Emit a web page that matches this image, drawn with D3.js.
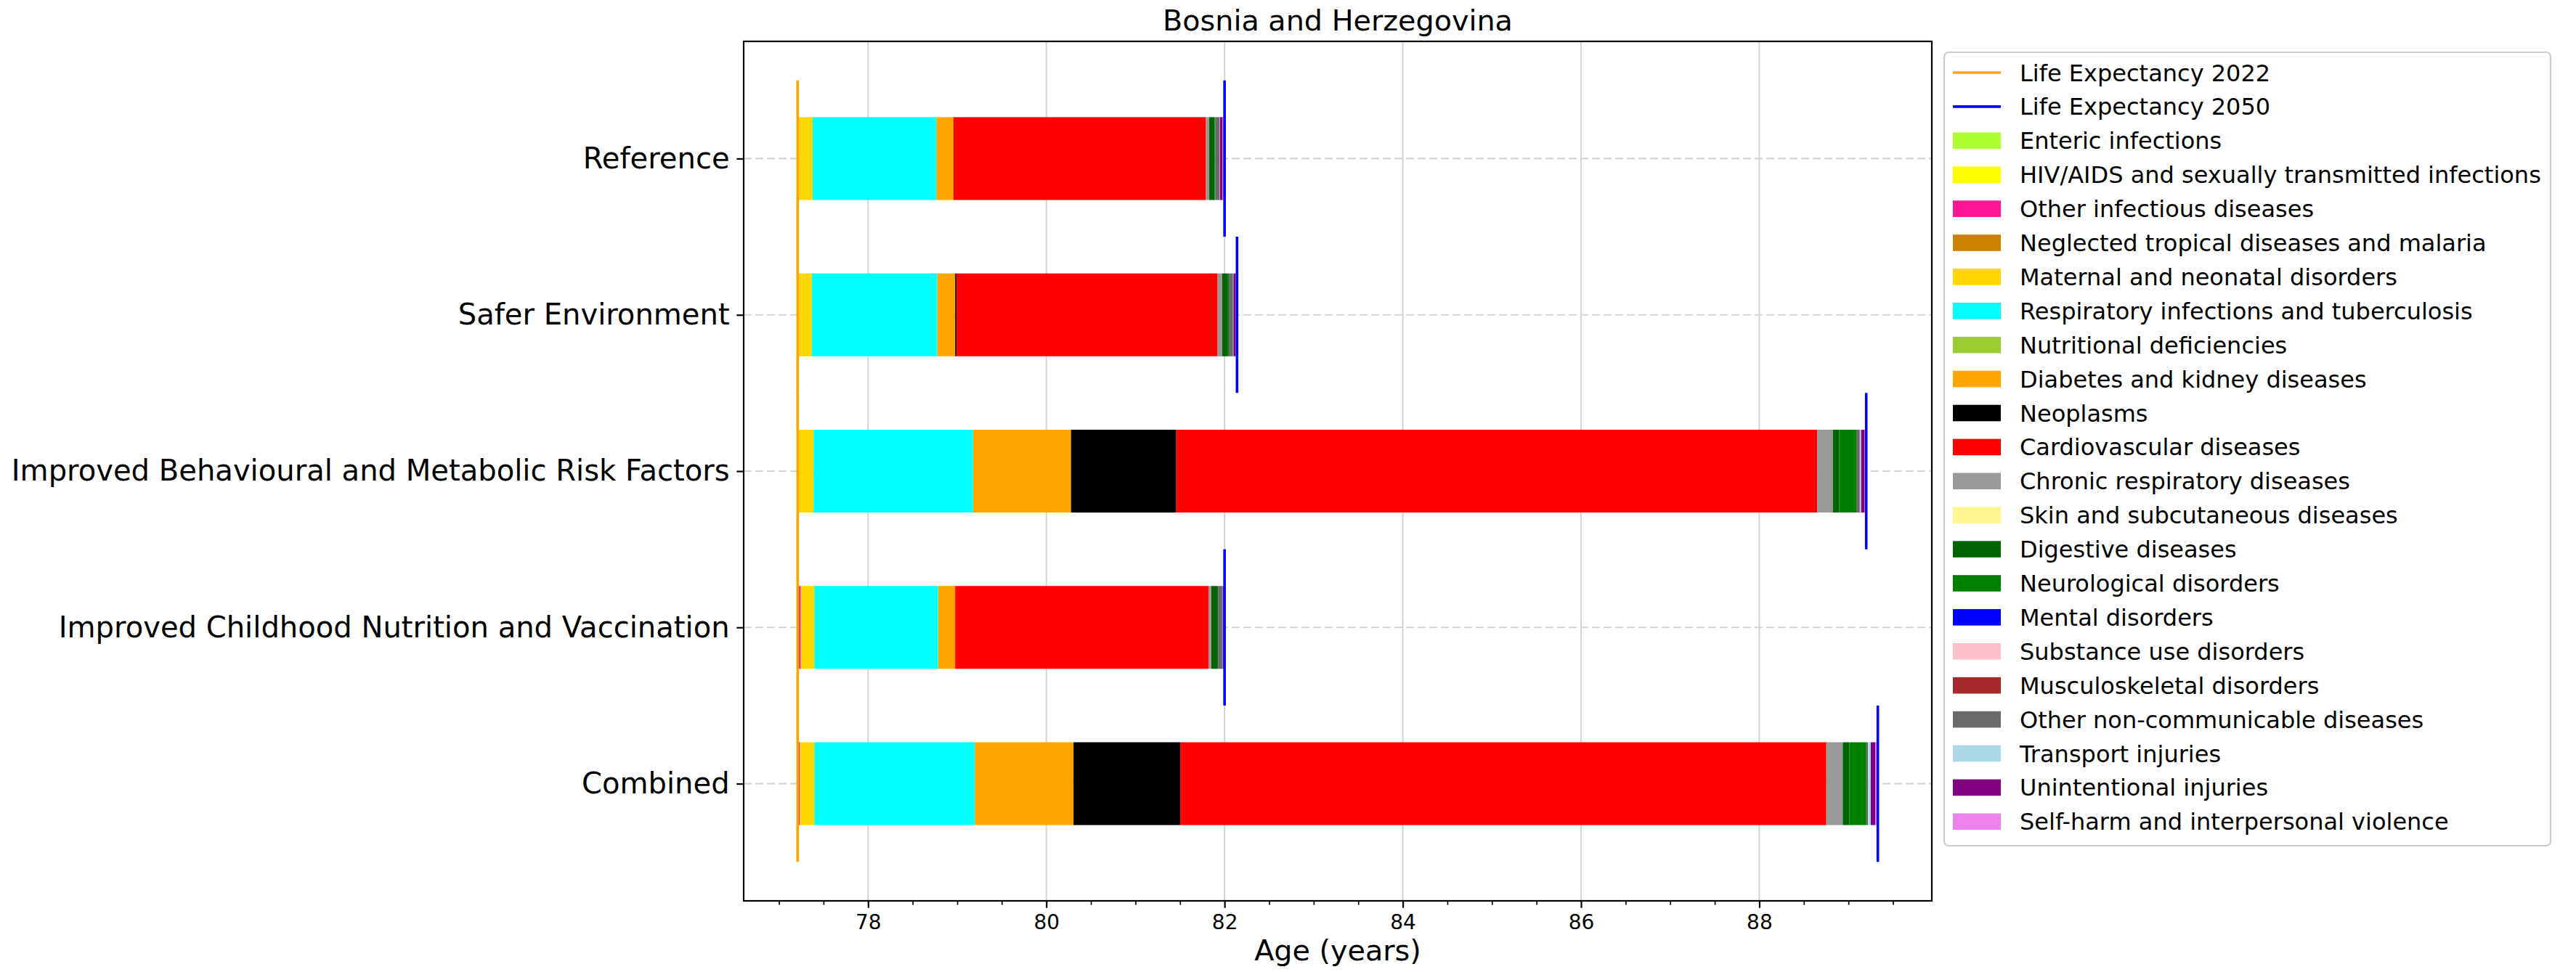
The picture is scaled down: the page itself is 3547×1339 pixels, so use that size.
<!DOCTYPE html>
<html><head><meta charset="utf-8">
<script src="https://cdn.jsdelivr.net/npm/d3@7"></script>
<style>body{margin:0;background:#fff} svg{display:block} text{font-family:"DejaVu Sans",sans-serif;fill:#000}</style>
</head><body><svg id="c" width="3547" height="1339"></svg>
<script>
// ---------------- DATA ----------------
const scenarios = ["Reference", "Safer Environment", "Improved Behavioural and Metabolic Risk Factors", "Improved Childhood Nutrition and Vaccination", "Combined"];
const lifeExpectancy2022 = [77.21, 77.21, 77.21, 77.21, 77.21];
const lifeExpectancy2050 = [82.00, 82.14, 89.20, 82.00, 89.33];

const causeNames = ["Enteric infections", "HIV/AIDS and sexually transmitted infections", "Other infectious diseases", "Neglected tropical diseases and malaria", "Maternal and neonatal disorders", "Respiratory infections and tuberculosis", "Nutritional deficiencies", "Diabetes and kidney diseases", "Neoplasms", "Cardiovascular diseases", "Chronic respiratory diseases", "Skin and subcutaneous diseases", "Digestive diseases", "Neurological disorders", "Mental disorders", "Substance use disorders", "Musculoskeletal disorders", "Other non-communicable diseases", "Transport injuries", "Unintentional injuries", "Self-harm and interpersonal violence"];
const causeColors = ["#ADFF2F", "#FFFF00", "#FF1493", "#CC8400", "#FFD700", "#00FFFF", "#9ACD32", "#FFA500", "#000000", "#FF0000", "#999999", "#FFF68F", "#006400", "#008000", "#0000FF", "#FFC0CB", "#A52A2A", "#696969", "#ADD8E6", "#800080", "#EE82EE"];

// years gained per cause, one value per scenario (order of `scenarios`)
const entericInfections   = [0.010, 0.005, 0.005, 0.015, 0.005];
const hivAids             = [0, 0, 0, 0, 0];
const otherInfectious     = [0.005, 0.010, 0.005, 0.020, 0.020];
const neglectedTropical   = [0, 0, 0, 0, 0];
const maternalNeonatal    = [0.153, 0.144, 0.168, 0.152, 0.162];
const respiratoryTB       = [1.388, 1.407, 1.790, 1.388, 1.800];
const nutritional         = [0, 0, 0, 0, 0];
const diabetesKidney      = [0.192, 0.201, 1.099, 0.192, 1.108];
const neoplasms           = [0, 0.014, 1.181, 0, 1.197];
const cardiovascular      = [2.833, 2.931, 7.193, 2.842, 7.250];
const chronicRespiratory  = [0.037, 0.051, 0.174, 0.033, 0.185];
const skinSubcutaneous    = [0, 0, 0, 0, 0];
const digestive           = [0.060, 0.065, 0.073, 0.065, 0.073];
const neurological        = [0.010, 0.010, 0.191, 0.010, 0.191];
const mental              = [0, 0, 0, 0, 0];
const substanceUse        = [0, 0, 0, 0, 0];
const musculoskeletal     = [0, 0, 0, 0, 0];
const otherNCD            = [0.045, 0.047, 0.039, 0.047, 0.020];
const transportInjuries   = [0.005, 0.005, 0.015, 0.005, 0.030];
const unintentional       = [0.030, 0.025, 0.035, 0.020, 0.050];
const selfHarm            = [0.012, 0.010, 0.015, 0.005, 0.015];

const xTicks = [78, 80, 82, 84, 86, 88];
const chartTitle = "Bosnia and Herzegovina";
const xLabel = "Age (years)";
const legendLineLabels = ["Life Expectancy 2022", "Life Expectancy 2050"];

// ---------------- BUILD ----------------
const causeValues = [entericInfections, hivAids, otherInfectious, neglectedTropical, maternalNeonatal, respiratoryTB, nutritional, diabetesKidney, neoplasms, cardiovascular, chronicRespiratory, skinSubcutaneous, digestive, neurological, mental, substanceUse, musculoskeletal, otherNCD, transportInjuries, unintentional, selfHarm];

const segments = [];
scenarios.forEach((s, i) => {
  let cur = lifeExpectancy2022[i];
  causeValues.forEach((vals, c) => {
    const v = vals[i];
    segments.push({ i, c, x0: cur, x1: cur + v });
    cur += v;
  });
});

const plot = { left: 1024, right: 2660, top: 57, bottom: 1241 };
const svg = d3.select("#c");

const allX = segments.flatMap(d => [d.x0, d.x1]).concat(lifeExpectancy2022, lifeExpectancy2050);
const xmin = d3.min(allX), xmax = d3.max(allX), xm = (xmax - xmin) * 0.05;
const x = d3.scaleLinear().domain([xmin - xm, xmax + xm]).range([plot.left, plot.right]);
const lineHalf = 0.5, barH = 0.53;
const ymin = -lineHalf, ymax = scenarios.length - 1 + lineHalf, ym = (ymax - ymin) * 0.05;
const y = d3.scaleLinear().domain([ymin - ym, ymax + ym]).range([plot.top, plot.bottom]);

// vertical grid
svg.append("g").selectAll("line").data(xTicks).join("line")
  .attr("x1", d => x(d)).attr("x2", d => x(d)).attr("y1", plot.top).attr("y2", plot.bottom)
  .attr("stroke", "#d3d3d3").attr("stroke-width", 2);
// horizontal dashed grid
svg.append("g").selectAll("line").data(scenarios).join("line")
  .attr("x1", plot.left).attr("x2", plot.right).attr("y1", (d, i) => y(i)).attr("y2", (d, i) => y(i))
  .attr("stroke", "#d3d3d3").attr("stroke-width", 2.2).attr("stroke-dasharray", "11,5");

// bars
svg.append("g").selectAll("rect").data(segments.filter(d => d.x1 > d.x0)).join("rect")
  .attr("x", d => x(d.x0)).attr("width", d => x(d.x1) - x(d.x0))
  .attr("y", d => y(d.i - barH / 2)).attr("height", d => y(barH) - y(0))
  .attr("fill", d => causeColors[d.c]);

// life expectancy lines
svg.append("g").selectAll("line").data(lifeExpectancy2022).join("line")
  .attr("x1", d => x(d)).attr("x2", d => x(d))
  .attr("y1", (d, i) => y(i - lineHalf)).attr("y2", (d, i) => y(i + lineHalf))
  .attr("stroke", "#FFA500").attr("stroke-width", 3.6);
svg.append("g").selectAll("line").data(lifeExpectancy2050).join("line")
  .attr("x1", d => x(d)).attr("x2", d => x(d))
  .attr("y1", (d, i) => y(i - lineHalf)).attr("y2", (d, i) => y(i + lineHalf))
  .attr("stroke", "#0000FF").attr("stroke-width", 3.6);

// frame
svg.append("rect").attr("x", plot.left).attr("y", plot.top)
  .attr("width", plot.right - plot.left).attr("height", plot.bottom - plot.top)
  .attr("fill", "none").attr("stroke", "#000").attr("stroke-width", 2.2);

// x axis
const xAxis = d3.axisBottom(x).tickValues(xTicks).tickFormat(d3.format("d")).tickSize(9.7).tickPadding(9);
const gx = svg.append("g").attr("transform", `translate(0,${plot.bottom})`).call(xAxis);
gx.select(".domain").remove();
gx.selectAll(".tick line").attr("stroke-width", 2.2);
gx.selectAll(".tick text").attr("font-size", 28).attr("font-family", "DejaVu Sans");
const minor = d3.range(Math.ceil(x.domain()[0] * 2) / 2, x.domain()[1], 0.5).filter(v => !xTicks.includes(v));
const xMinor = d3.axisBottom(x).tickValues(minor).tickFormat("").tickSize(5.6);
const gxm = svg.append("g").attr("transform", `translate(0,${plot.bottom})`).call(xMinor);
gxm.select(".domain").remove();
gxm.selectAll(".tick line").attr("stroke-width", 1.7);

// y axis
const yAxis = d3.axisLeft(y).tickValues(d3.range(scenarios.length)).tickFormat(i => scenarios[i]).tickSize(9.7).tickPadding(9.7);
const gy = svg.append("g").attr("transform", `translate(${plot.left},0)`).call(yAxis);
gy.select(".domain").remove();
gy.selectAll(".tick line").attr("stroke-width", 2.2);
gy.selectAll(".tick text").attr("font-size", 40.1).attr("font-family", "DejaVu Sans");

// title and x label
svg.append("text").attr("x", (plot.left + plot.right) / 2).attr("y", 42)
  .attr("text-anchor", "middle").attr("font-size", 39.7).text(chartTitle);
svg.append("text").attr("x", (plot.left + plot.right) / 2).attr("y", 1323)
  .attr("text-anchor", "middle").attr("font-size", 39.7).text(xLabel);

// legend
const leg = { left: 2677, top: 72, right: 3512, bottom: 1165, first: 100, step: 46.9 };
svg.append("rect").attr("x", leg.left).attr("y", leg.top)
  .attr("width", leg.right - leg.left).attr("height", leg.bottom - leg.top)
  .attr("rx", 6).attr("fill", "#fff").attr("fill-opacity", 0.8).attr("stroke", "#cccccc").attr("stroke-width", 2.2);
const legendItems = legendLineLabels.map((l, k) => ({ label: l, type: "line", color: k === 0 ? "#FFA500" : "#0000FF" }))
  .concat(causeNames.map((n, c) => ({ label: n, type: "patch", color: causeColors[c] })));
const li = svg.append("g").selectAll("g").data(legendItems).join("g")
  .attr("transform", (d, k) => `translate(0,${leg.first + k * leg.step})`);
li.filter(d => d.type === "line").append("line")
  .attr("x1", 2689).attr("x2", 2755).attr("y1", 0).attr("y2", 0)
  .attr("stroke", d => d.color).attr("stroke-width", 3.6);
li.filter(d => d.type === "patch").append("rect")
  .attr("x", 2689).attr("y", -11.3).attr("width", 66).attr("height", 22.6)
  .attr("fill", d => d.color);
li.append("text").attr("x", 2781).attr("y", 0).attr("dy", "0.36em")
  .attr("font-size", 32).text(d => d.label);
</script></body></html>
